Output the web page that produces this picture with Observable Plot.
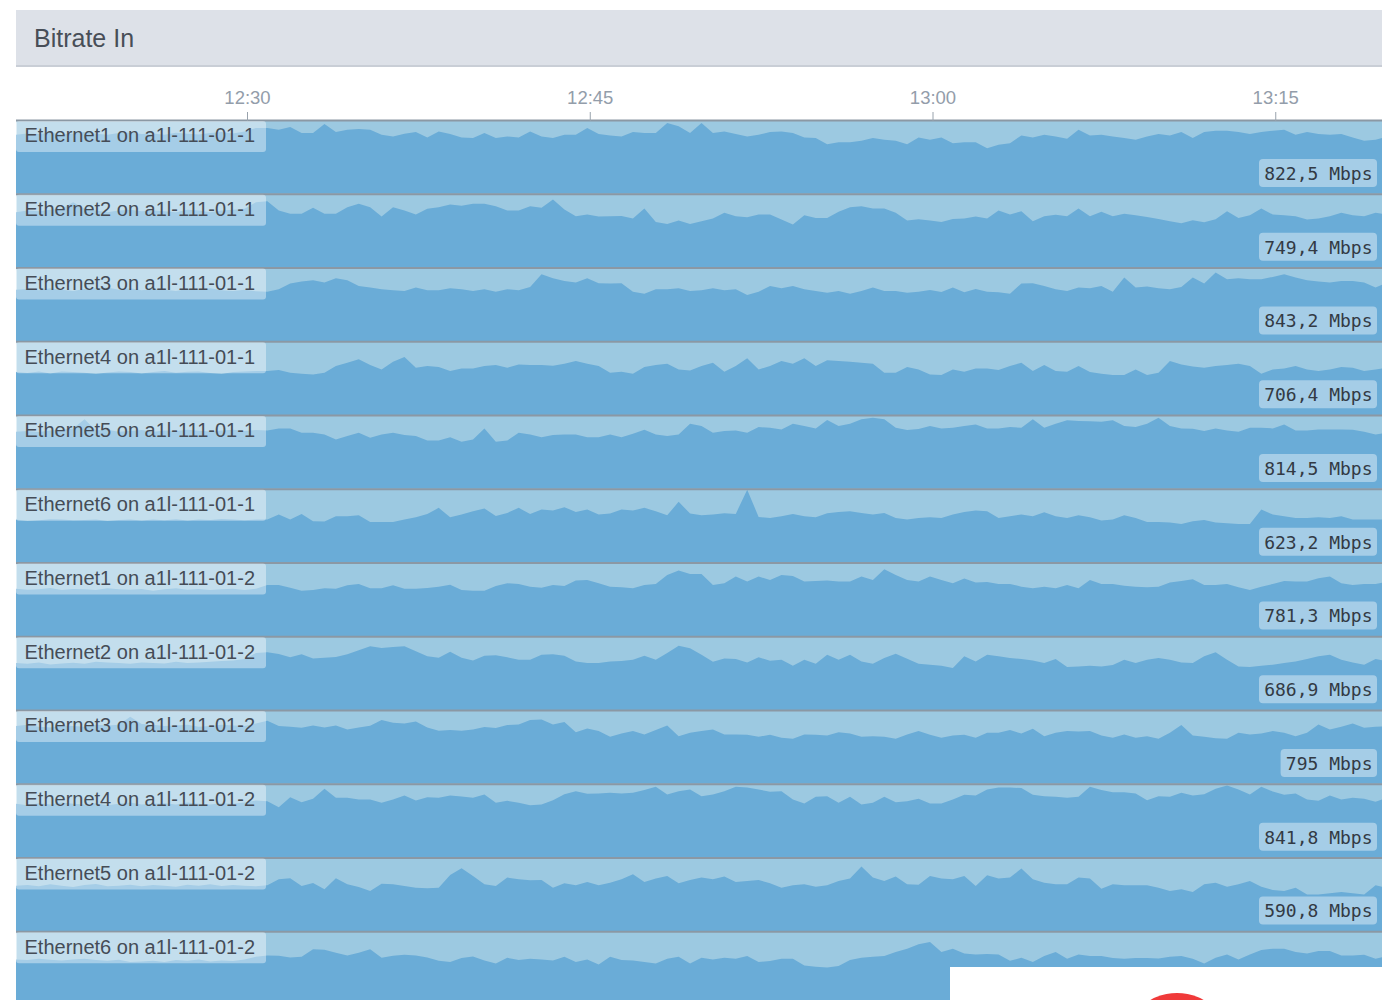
<!DOCTYPE html>
<html>
<head>
<meta charset="utf-8">
<title>Bitrate In</title>
<script src="https://cdn.jsdelivr.net/npm/d3@7"></script>
<script src="https://cdn.jsdelivr.net/npm/@observablehq/plot@0.6"></script>
<style>
html,body{margin:0;padding:0;background:#fff;overflow:hidden;height:1000px}
#page{position:relative;width:1382px;height:1000px;overflow:hidden;font-family:"Liberation Sans",sans-serif}
#head{position:absolute;left:16px;top:10px;width:1366px;height:55px;background:#dde1e8;border-bottom:2px solid #c9ced6;box-sizing:content-box;color:#484e57;font-size:25px;line-height:56px;text-indent:18px}
#chart{position:absolute;left:16px;top:78px}
#cover{position:absolute;left:950px;top:967px;width:432px;height:33px;background:#fff;overflow:hidden}
#dot{position:absolute;left:173px;top:26px;width:108px;height:108px;border-radius:50%;background:#f03a3a}
</style>
</head>
<body>
<div id="page">
<div id="head">Bitrate In</div>
<div id="chart"></div>
<div id="cover"><div id="dot"></div></div>
</div>
<script>
const names = ["Ethernet1 on a1l-111-01-1","Ethernet2 on a1l-111-01-1","Ethernet3 on a1l-111-01-1","Ethernet4 on a1l-111-01-1","Ethernet5 on a1l-111-01-1","Ethernet6 on a1l-111-01-1","Ethernet1 on a1l-111-01-2","Ethernet2 on a1l-111-01-2","Ethernet3 on a1l-111-01-2","Ethernet4 on a1l-111-01-2","Ethernet5 on a1l-111-01-2","Ethernet6 on a1l-111-01-2"];
const current = ["822,5 Mbps","749,4 Mbps","843,2 Mbps","706,4 Mbps","814,5 Mbps","623,2 Mbps","781,3 Mbps","686,9 Mbps","795 Mbps","841,8 Mbps","590,8 Mbps"];
const tickLabels = ["12:30","12:45","13:00","13:15"];

// Mbps, one sample every 30 seconds
const s1 = [880,900,890,910,885,900,920,895,880,905,915,890,900,880,910,895,885,905,920,900,930,980,
980,955,995,905,905,1040,920,955,965,955,880,855,895,920,840,930,890,840,830,
905,830,855,840,930,855,830,880,880,980,890,870,855,920,905,905,1055,1005,905,1055,905,930,890,855,880,920,930,905,840,830,740,770,770,790,830,805,790,740,840,805,
840,755,770,770,680,730,755,870,840,880,855,820,955,870,880,855,830,805,855,890,870,920,830,920,940,940,920,890,920,940,955,880,920,890,880,890,840,790,805,855];
const s2 = [825,850,840,860,875,975,875,850,825,850,860,840,850,840,825,860,850,825,850,860,875,975,
990,850,800,800,890,800,800,900,950,900,760,900,850,790,875,900,940,920,950,
950,915,850,850,915,890,1015,865,765,790,760,765,770,730,880,680,650,700,650,690,730,815,765,750,790,790,715,640,780,740,740,830,900,915,880,880,815,700,720,700,
680,725,730,760,730,850,790,840,690,765,785,765,880,765,830,765,800,780,755,725,690,660,705,675,720,840,740,780,880,790,780,765,715,730,765,815,780,765,815,790];
const s3 = [770,780,760,790,770,750,780,790,800,770,790,760,780,770,750,780,770,790,760,750,770,745,
740,775,860,890,910,875,940,910,825,800,775,760,750,800,760,760,790,775,750,
775,740,775,760,810,1000,940,900,875,940,865,860,865,740,710,775,775,790,750,760,790,760,775,690,740,825,790,825,775,750,725,750,710,750,800,750,750,725,740,765,
735,800,730,780,740,730,710,860,865,825,775,750,800,790,825,740,950,800,815,790,775,810,950,860,1025,925,940,925,925,960,1000,950,910,890,875,900,900,875,800,875];
const s4 = [640,625,650,620,650,640,630,610,635,650,640,620,640,655,630,645,650,625,610,640,650,655,
655,670,630,615,605,630,730,780,830,745,680,795,865,705,730,715,655,695,695,
730,745,705,755,745,745,735,765,805,765,730,630,645,615,715,745,765,680,665,730,780,645,730,845,680,730,805,765,845,730,815,805,795,780,765,630,630,715,680,605,
595,680,645,695,695,670,730,780,655,745,655,645,730,640,615,595,595,680,595,630,805,755,725,705,730,745,765,730,615,680,695,730,680,655,680,715,705,655,680,705];
const s5 = [850,860,845,870,880,900,1035,870,880,850,860,875,850,870,860,880,865,855,870,880,860,875,
870,900,900,835,835,810,735,785,835,760,810,835,800,785,720,720,770,700,735,
900,700,720,835,810,770,800,810,810,770,770,810,770,820,880,810,785,810,970,935,835,860,870,835,920,910,885,970,935,900,1025,935,970,1035,1060,1035,910,875,890,935,
900,910,935,960,900,900,920,910,1035,910,970,1020,1010,1005,1000,1020,935,920,970,1060,935,900,895,860,900,870,850,910,910,900,960,870,870,885,885,885,880,850,810,835];
const s6 = [640,620,630,645,640,630,635,640,620,635,640,625,640,630,645,625,640,635,650,640,630,640,
640,715,640,725,615,610,690,690,705,605,605,605,640,675,725,815,675,715,765,
805,695,740,815,725,790,775,825,755,790,715,730,790,775,815,765,705,905,730,705,715,735,725,1085,680,665,690,725,690,675,735,755,765,740,715,740,665,640,665,675,
665,715,755,775,765,665,690,715,690,750,690,665,705,675,625,640,705,665,605,605,595,575,615,635,595,585,575,575,790,715,690,665,665,675,665,690,640,640,640,640];
const s7 = [710,695,700,720,690,705,700,690,715,700,695,705,680,700,715,695,705,690,700,710,690,710,
765,765,725,680,690,715,710,760,780,715,715,760,710,710,720,740,770,690,680,
680,750,790,780,740,725,765,750,830,840,790,740,730,715,765,780,915,980,930,930,765,790,890,815,890,840,915,900,815,825,830,815,815,890,840,1000,915,840,815,890,
840,790,860,800,810,780,780,740,715,740,715,765,715,840,780,780,755,740,730,740,800,825,850,765,765,780,730,690,740,780,825,815,815,865,890,790,765,780,780,815];
const s8 = [700,690,710,680,695,705,690,720,710,700,690,710,700,695,720,700,710,720,730,740,760,850,
860,835,785,830,770,780,790,830,890,950,925,940,950,875,800,780,870,780,740,
810,815,785,750,750,825,830,810,725,700,700,725,730,750,810,750,850,960,920,825,720,770,760,710,785,735,750,660,750,690,825,750,825,725,690,775,840,765,690,675,
660,625,800,725,825,800,775,760,740,700,760,640,650,660,650,670,750,700,750,775,750,710,700,800,860,750,650,640,660,675,700,725,760,800,825,750,710,675,760,725];
const s9 = [860,880,850,840,870,860,850,880,870,880,1000,890,880,860,870,880,850,860,880,870,860,900,
940,860,850,835,870,840,870,810,840,865,950,910,900,930,840,790,800,790,810,
845,830,875,885,950,960,885,920,770,825,785,700,750,785,735,800,870,710,760,785,810,735,735,730,700,730,685,670,735,730,720,770,750,700,710,700,670,735,785,730,
685,720,730,685,760,760,800,750,820,710,760,785,780,785,720,685,735,685,710,670,760,875,720,700,680,670,760,735,750,785,760,710,760,885,810,850,900,835,850,860];
const s10 = [800,780,810,790,820,800,790,810,780,800,820,790,800,810,790,820,800,790,810,800,820,850,
840,750,900,825,875,1025,890,890,865,865,815,865,925,850,900,890,925,910,890,
940,815,845,815,780,790,855,945,990,950,955,965,955,965,1005,1055,940,990,1015,915,940,990,1055,1045,1015,980,990,865,805,905,915,815,905,790,815,905,825,840,875,805,
805,865,935,925,1015,1045,1045,1035,935,915,905,890,905,1055,1005,975,975,955,855,915,905,965,925,945,1025,1075,1015,940,1055,985,935,955,865,845,925,865,890,875,830,890];
const s11 = [680,690,670,700,680,660,690,705,670,680,695,670,690,680,665,695,680,700,675,690,680,670,
685,775,790,675,720,625,790,700,660,600,710,700,675,650,640,650,840,940,825,
700,675,800,775,760,765,650,715,685,735,685,725,775,850,735,785,825,715,765,800,775,815,735,750,765,715,650,685,700,665,685,750,785,965,800,750,815,700,695,825,
785,775,825,675,835,785,800,935,775,725,700,700,800,785,635,700,685,685,685,650,600,625,585,700,725,665,700,750,665,615,600,650,550,550,565,585,565,550,685,650];
const s12 = [680,670,690,675,665,680,690,670,660,675,640,650,660,640,670,660,680,650,665,655,680,720,
740,735,710,720,830,825,780,740,780,830,705,735,750,740,710,660,640,700,725,
665,620,705,670,690,680,665,720,640,680,605,720,670,665,640,620,690,720,620,705,680,705,690,730,640,655,690,690,590,570,560,580,670,705,720,730,790,840,905,940,
790,840,770,755,760,755,660,705,640,730,790,690,755,730,730,700,690,700,700,695,720,730,690,620,705,755,680,755,820,840,840,790,770,805,805,740,740,750,690,730];
const series = [s1,s2,s3,s4,s5,s6,s7,s8,s9,s10,s11,s12];
series.forEach((s,k)=>{ if (s.length !== 121) throw new Error("row "+k+" has "+s.length); });

const pxPerMin = 22.85, rowPx = 73.75, maxV = 1100;
const t1230 = Date.UTC(2020,0,1,12,30);
const t0 = t1230 - 231/pxPerMin*60000;
const t1 = t0 + 1366/pxPerMin*60000;
const xAt = px => new Date(t0 + (px-16)/pxPerMin*60000);
const yAt = d => maxV - d*maxV/rowPx;

const rows = series.flatMap((s,k)=>s.map((v,i)=>({name:names[k], t:new Date(t0+i*30000), v})));
const ticks = tickLabels.map((_,i)=>new Date(t1230+i*15*60000));
const currentRows = current.map((text,k)=>({name:names[k], text}));

const chart = Plot.plot({
  width:1366, height:927,
  marginLeft:0, marginRight:0, marginTop:42, marginBottom:0,
  style:{fontFamily:"Liberation Sans",background:"transparent"},
  x:{domain:[new Date(t0),new Date(t1)],type:"time"},
  y:{domain:[0,maxV],axis:null},
  fy:{domain:names,padding:0,round:false,axis:null},
  marks:[
    Plot.frame({fill:"#9cc9e1",stroke:"none"}),
    Plot.areaY(rows,{x:"t",y:"v",fy:"name",fill:"#6aacd7",curve:"linear",clip:true}),
    Plot.ruleY([maxV],{stroke:"#8b98a4",strokeWidth:2}),
    Plot.axisX({anchor:"top",ticks,tickFormat:d=>tickLabels[ticks.findIndex(t=>+t===+d)],tickSize:9,tickPadding:8,label:null,
      stroke:"#98a2ac",fill:"#939daa",fontSize:18.5,fontFamily:"Liberation Sans"}),
    Plot.rect(names,{fy:d=>d,x1:()=>xAt(16),x2:()=>xAt(266),y1:()=>yAt(1),y2:()=>yAt(32),fill:"#fff",fillOpacity:0.4,rx:3}),
    Plot.text(names,{fy:d=>d,x:()=>xAt(24),y:()=>yAt(15.5),text:d=>d,textAnchor:"start",fill:"#454c56",fontSize:20,fontFamily:"Liberation Sans"}),
    Plot.rect(currentRows,{fy:"name",x1:d=>xAt(1377-(10.8*d.text.length+10)),x2:()=>xAt(1377),y1:()=>yAt(39),y2:()=>yAt(67),fill:"#fff",fillOpacity:0.4,rx:4}),
    Plot.text(currentRows,{fy:"name",x:()=>xAt(1372),y:()=>yAt(53.5),text:"text",textAnchor:"end",fill:"#333a44",fontSize:18,fontFamily:"DejaVu Sans Mono"})
  ]
});
document.getElementById("chart").appendChild(chart);
</script>
</body>
</html>
